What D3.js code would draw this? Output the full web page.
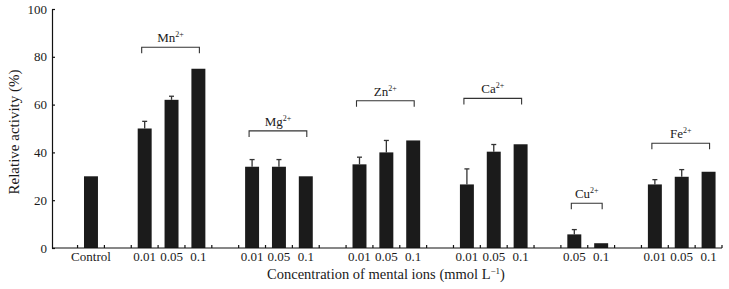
<!DOCTYPE html>
<html>
<head>
<meta charset="utf-8">
<script src="https://cdn.jsdelivr.net/npm/d3@7"></script>
<style>
  body { margin: 0; background: #fff; }
  text { font-family: "Liberation Serif", "Times New Roman", serif; fill: #1a1a1a; }
</style>
</head>
<body>
<svg id="chart"></svg>
<script>
// bar data, in drawing order
const groupOf = ["Control", "Mn", "Mn", "Mn", "Mg", "Mg", "Mg", "Zn", "Zn", "Zn", "Ca", "Ca", "Ca", "Cu", "Cu", "Fe", "Fe", "Fe"];
const concLabels = ["Control", "0.01", "0.05", "0.1", "0.01", "0.05", "0.1", "0.01", "0.05", "0.1", "0.01", "0.05", "0.1", "0.05", "0.1", "0.01", "0.05", "0.1"];
const activity = [30, 50, 62, 75, 34, 34, 30, 35, 40, 45, 26.6, 40.3, 43.4, 5.7, 2, 26.6, 29.8, 31.9];
const errors = [0, 3, 1.5, 0, 3, 3, 0, 3, 5, 0, 6.5, 3, 0, 2, 0, 2, 3, 0];

// ion brackets
const ions = ["Mn", "Mg", "Zn", "Ca", "Cu", "Fe"];
const bracketLevel = [84, 49, 61.6, 62.6, 18.7, 43.8];

const yTicks = [0, 20, 40, 60, 80, 100];

const width = 729, height = 289;
const svg = d3.select("#chart").attr("width", width).attr("height", height);

// one empty slot before every group
const slots = [];
groupOf.forEach((g, i) => {
  if (i === 0 || groupOf[i - 1] !== g) slots.push("gap" + i);
  slots.push("bar" + i);
});

const x = d3.scaleBand().domain(slots).range([50.7, 722]).paddingInner(0.48).paddingOuter(0.24);
const step = x.step();
const left = 50.7;
const y = d3.scaleLinear().domain([0, 100]).range([248, 9]);
const cx = (i) => x("bar" + i) + x.bandwidth() / 2;

// bars
svg.append("g")
  .selectAll("rect")
  .data(activity)
  .join("rect")
  .attr("x", (d, i) => x("bar" + i))
  .attr("width", x.bandwidth())
  .attr("y", (d) => y(d))
  .attr("height", (d) => y(0) - y(d))
  .attr("fill", "#1b1b1b");

// error bars
const eb = svg.append("g").attr("stroke", "#333").attr("stroke-width", 1.3);
activity.forEach((d, i) => {
  if (!errors[i]) return;
  eb.append("line").attr("x1", cx(i)).attr("x2", cx(i)).attr("y1", y(d)).attr("y2", y(d + errors[i]));
  eb.append("line").attr("x1", cx(i) - 2.5).attr("x2", cx(i) + 2.5).attr("y1", y(d + errors[i])).attr("y2", y(d + errors[i]));
});

// x axis with inward ticks at slot boundaries
const xa = svg.append("g").attr("stroke", "#111").attr("stroke-width", 1.2);
xa.append("line").attr("x1", 52).attr("x2", 722).attr("y1", y(0)).attr("y2", y(0));
d3.range(1, slots.length + 1).forEach((k) => {
  const px = left + k * step;
  xa.append("line").attr("x1", px).attr("x2", px).attr("y1", y(0)).attr("y2", y(0) - 3);
});

svg.append("g")
  .selectAll("text")
  .data(concLabels)
  .join("text")
  .attr("x", (d, i) => cx(i))
  .attr("y", 261)
  .attr("text-anchor", "middle")
  .attr("font-size", 13)
  .text((d) => d);

// y axis
const yAxis = d3.axisLeft(y).tickValues(yTicks).tickSizeInner(-3).tickSizeOuter(0).tickPadding(5);
const ya = svg.append("g").attr("transform", "translate(52,0)").call(yAxis);
ya.select(".domain").attr("stroke", "#111").attr("stroke-width", 1.2);
ya.selectAll(".tick line").attr("stroke", "#111").attr("stroke-width", 1.2);
ya.selectAll(".tick text").attr("font-size", 13).attr("font-family", "Liberation Serif, serif").attr("fill", "#1a1a1a");

// brackets
const br = svg.append("g");
ions.forEach((ion, j) => {
  const idx = groupOf.map((g, i) => (g === ion ? i : -1)).filter((i) => i >= 0);
  const x1 = cx(idx[0]) - 3;
  const x2 = cx(idx[idx.length - 1]) + 1;
  const by = y(bracketLevel[j]);
  br.append("path")
    .attr("d", `M${x1},${by + 6}V${by}H${x2}V${by + 6}`)
    .attr("fill", "none")
    .attr("stroke", "#333")
    .attr("stroke-width", 1.1);
  const t = br.append("text")
    .attr("x", (x1 + x2) / 2)
    .attr("y", by - 5)
    .attr("text-anchor", "middle")
    .attr("font-size", 13);
  t.append("tspan").text(ion);
  t.append("tspan").attr("font-size", 8).attr("dy", -5).text("2+");
});

// axis titles
svg.append("text")
  .attr("x", 386)
  .attr("y", 279)
  .attr("text-anchor", "middle")
  .attr("font-size", 14.5)
  .call((t) => {
    t.append("tspan").text("Concentration of mental ions (mmol L");
    t.append("tspan").attr("font-size", 9).attr("dy", -5).text("−1");
    t.append("tspan").attr("dy", 5).text(")");
  });

svg.append("text")
  .attr("transform", "translate(19,132) rotate(-90)")
  .attr("text-anchor", "middle")
  .attr("font-size", 15)
  .text("Relative activity (%)");
</script>
</body>
</html>
